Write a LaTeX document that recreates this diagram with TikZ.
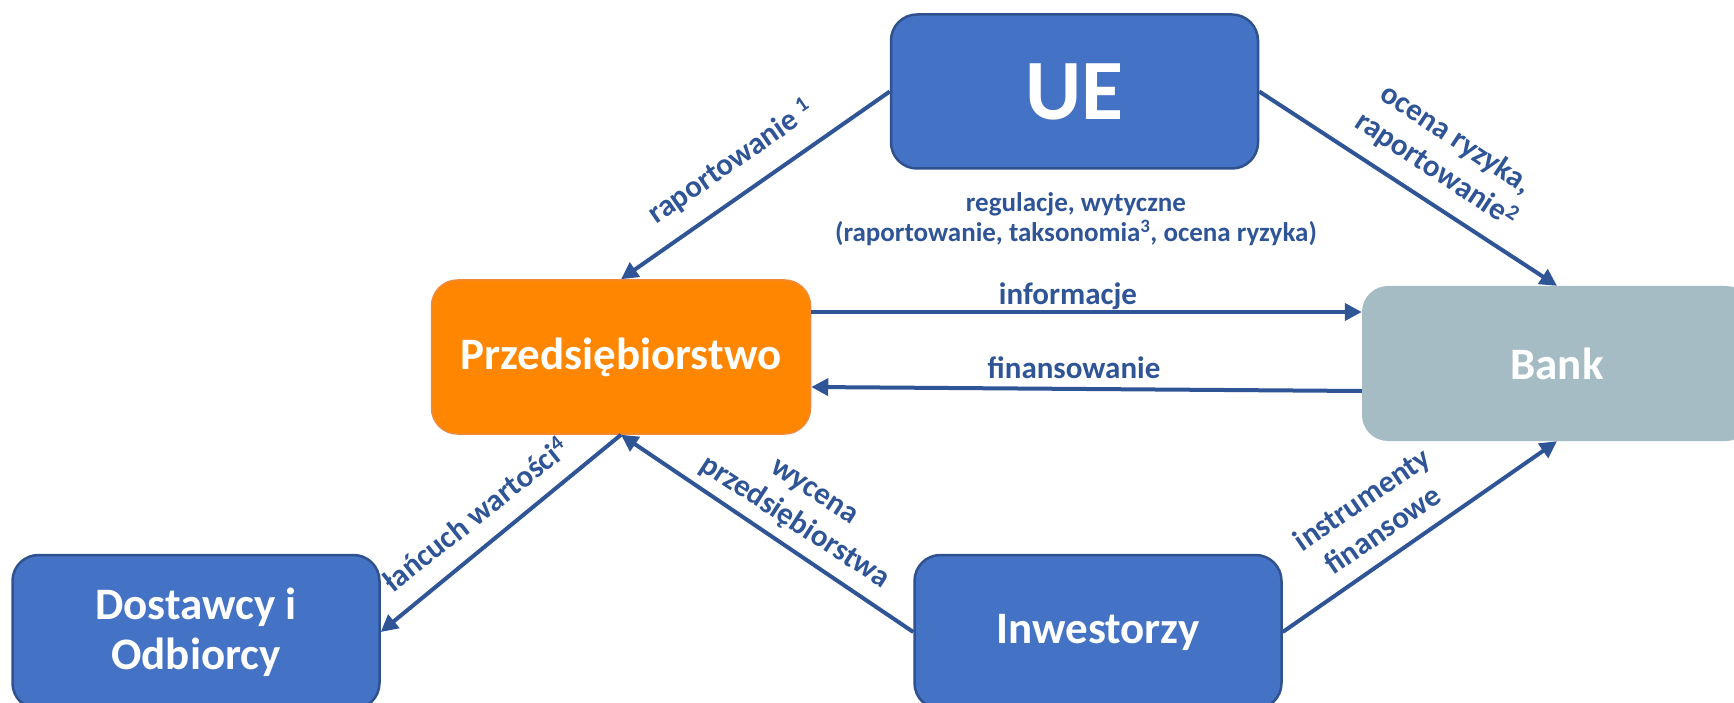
\documentclass[tikz,border=0pt]{standalone}
\usepackage{fontspec}
\setmainfont{Carlito}
\usetikzlibrary{arrows.meta}
\definecolor{euBlue}{HTML}{4472C4}
\definecolor{euEdge}{HTML}{2F528F}
\definecolor{firmOrange}{HTML}{FF8600}
\definecolor{firmEdge}{HTML}{F08A3A}
\definecolor{bankGray}{HTML}{A5BCC4}
\definecolor{arrBlue}{HTML}{2F5597}
\begin{document}
\begin{tikzpicture}[x=1pt,y=-1pt,
  box/.style={rounded corners=26pt,inner sep=0pt,minimum height=154pt,text=white,font=\bfseries\fontsize{45}{50}\selectfont,align=center},
  bluebox/.style={box,draw=euEdge,line width=2.5pt,fill=euBlue,minimum width=367pt},
  arr/.style={arrBlue,line width=4pt,-{Triangle[length=17pt,width=17pt]}},
  lbl/.style={text=arrBlue,font=\bfseries\fontsize{31}{37}\selectfont,align=center,inner sep=0pt}]
\clip (0,0) rectangle (1734,703);
\fill[white] (0,0) rectangle (1734,703);
% Boxes
\node[bluebox,font=\bfseries\fontsize{86}{90}\selectfont] (ue) at (1074.5,91.5) {UE};
\node[box,draw=firmEdge,line width=1.5pt,fill=firmOrange,minimum width=379pt] (firm) at (621,357) {Przedsiębiorstwo};
\node[box,fill=bankGray,minimum width=390pt,minimum height=155pt] (bank) at (1557,363.5) {Bank};
\node[bluebox] (supp) at (196,632) {Dostawcy i\\Odbiorcy};
\node[bluebox] (inv) at (1098,632) {Inwestorzy};
% Arrows
\draw[arr] (ue.west) -- (firm.north);
\draw[arr] (ue.east) -- (bank.north);
\draw[arr] ([yshift=45pt]firm.east) -- ([yshift=45pt]firm.east -| bank.west);
\draw[arr] ([yshift=-27.5pt]bank.west) -- ([yshift=-30pt]firm.east);
\draw[arr] (firm.south) -- (supp.east);
\draw[arr] (inv.west) -- (firm.south);
\draw[arr] (inv.east) -- (bank.south);
% Labels
\node[lbl,rotate=34.8] (lrep) at (731,162) {raportowanie \textsuperscript{1}};
\node[lbl,rotate=-33.5] (lrisk) at (1446,155) {ocena ryzyka,\\raportowanie\textsuperscript{2}};
\node[lbl,font=\bfseries\fontsize{27}{30}\selectfont] (lreg) at (1076,219) {regulacje, wytyczne\\(raportowanie, taksonomia\textsuperscript{3}, ocena ryzyka)};
\node[lbl] (linfo) at (1068,296) {informacje};
\node[lbl] (lfin) at (1074,368) {finansowanie};
\node[lbl,rotate=38.5] (lchain) at (475,514) {łańcuch wartości\textsuperscript{4}};
\node[lbl,rotate=-33] (lval) at (803,509) {wycena\\przedsiębiorstwa};
\node[lbl,rotate=34.5] (linstr) at (1372,514) {instrumenty\\finansowe};
\end{tikzpicture}
\end{document}
